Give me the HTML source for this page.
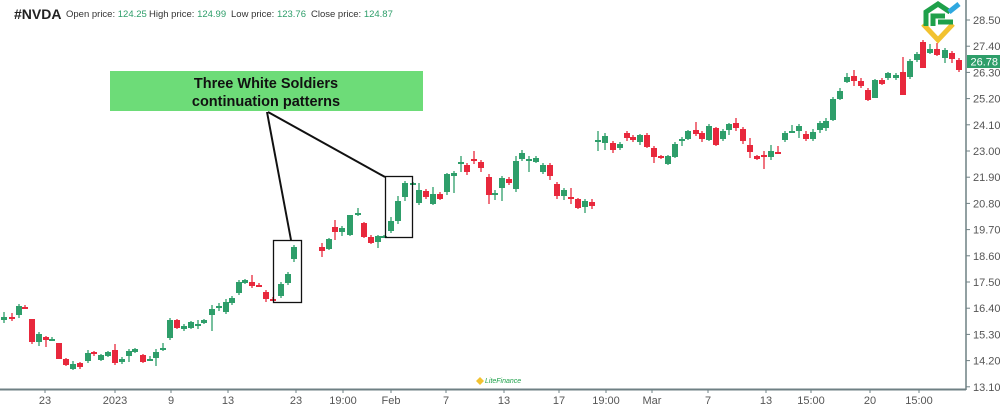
<!DOCTYPE html>
<html><head><meta charset="utf-8"><style>
body{margin:0;background:#fff;width:1000px;height:411px;overflow:hidden;font-family:"Liberation Sans",sans-serif}
svg{position:absolute;left:0;top:0}
</style></head><body>
<svg id="s" width="1000" height="411" xmlns="http://www.w3.org/2000/svg" font-family="Liberation Sans, sans-serif">
<text x="14" y="19" font-size="14" font-weight="bold" fill="#222">#NVDA</text>
<g font-size="9.5" fill="#333">
<text x="66" y="17">Open price: <tspan fill="#2e9e6a">124.25</tspan></text>
<text x="149" y="17">High price: <tspan fill="#2e9e6a">124.99</tspan></text>
<text x="231" y="17">Low price: <tspan fill="#2e9e6a">123.76</tspan></text>
<text x="311" y="17">Close price: <tspan fill="#2e9e6a">124.87</tspan></text>
</g>
<line x1="966" y1="0" x2="966" y2="390" stroke="#6f8084" stroke-width="1.5"/>
<line x1="0" y1="389.5" x2="966" y2="389.5" stroke="#6f8084" stroke-width="2"/>
<g font-size="11" fill="#555" id="yl"></g>
<g font-size="11" fill="#555" id="xl" text-anchor="middle"></g>
<g id="c"></g>
<rect x="110" y="71" width="313" height="40" fill="#6ddc78"/>
<text x="266" y="88" font-size="14.5" font-weight="bold" text-anchor="middle" fill="#111">Three White Soldiers</text>
<text x="266" y="106" font-size="14.5" font-weight="bold" text-anchor="middle" fill="#111">continuation patterns</text>
<line x1="267" y1="112" x2="291" y2="240" stroke="#111" stroke-width="2"/>
<line x1="268" y1="112" x2="385" y2="177" stroke="#111" stroke-width="2"/>
<rect x="273.5" y="240.5" width="28" height="62" fill="none" stroke="#111" stroke-width="1.3"/>
<rect x="385.5" y="176.5" width="27" height="61" fill="none" stroke="#111" stroke-width="1.3"/>
<rect x="967" y="55" width="33" height="13" fill="#2e9e6a"/>
<text x="998" y="65.5" font-size="11" fill="#fff" text-anchor="end">26.78</text>
<g transform="translate(921,2)">
<path d="M2 22 L17 38 L32 22" fill="none" stroke="#f2c230" stroke-width="5" stroke-linejoin="miter"/>
<path d="M5 24 L5 10 L17 2 L29 10 M12 24 L12 14 L24 14 M17 20 L32 20" fill="none" stroke="#1ea04a" stroke-width="5"/>
<path d="M28 10 L38 2" stroke="#2fa8e0" stroke-width="5"/>
</g>
<g transform="translate(476,376)"><path d="M0 5 L4 1 L8 5 L4 9Z" fill="#f2c230"/><text x="9" y="7" font-size="7" fill="#1ea04a" font-style="italic">LiteFinance</text></g>
</svg>
<script>
var s="http://www.w3.org/2000/svg";
function el(p,t,a,txt){var e=document.createElementNS(s,t);for(var k in a)e.setAttribute(k,a[k]);if(txt)e.textContent=txt;p.appendChild(e);return e;}
var yl=document.getElementById('yl');
var pr=["28.50","27.40","26.30","25.20","24.10","23.00","21.90","20.80","19.70","18.60","17.50","16.40","15.30","14.20","13.10"];
pr.forEach(function(p,i){var y=20+i*26.2;el(yl,'line',{x1:966,y1:y,x2:970,y2:y,stroke:'#6f8084'});el(yl,'text',{x:973,y:y+4},p);});
var xl=document.getElementById('xl');
[[45,"23"],[115,"2023"],[171,"9"],[228,"13"],[296,"23"],[343,"19:00"],[391,"Feb"],[446,"7"],[504,"13"],[559,"17"],[606,"19:00"],[652,"Mar"],[708,"7"],[766,"13"],[811,"15:00"],[870,"20"],[919,"15:00"]].forEach(function(a){el(xl,'line',{x1:a[0],y1:390,x2:a[0],y2:393,stroke:'#6f8084'});el(xl,'text',{x:a[0],y:404},a[1]);});
var G='#2e9e6a',R='#e8283c';
var d=[[4,312,323,317,320,G],[12,313,321,317,318,R],[19,304,318,306,315,G],[25,305,309,307,308,R],[32,319,344,319,342,R],[39,332,346,334,342,G],[46,336,347,337,340,R],[52,337,341,339,340,G],[59,343,359,343,359,R],[66,358,366,359,365,R],[73,361,370,364,369,G],[80,362,369,363,367,R],[88,350,363,353,361,G],[94,351,356,352,354,R],[101,354,361,355,360,G],[108,351,357,352,356,G],[115,344,365,350,363,R],[122,357,364,359,362,G],[129,349,362,351,356,G],[135,348,353,349,352,G],[143,354,363,355,362,R],[150,356,361,359,360,G],[156,349,366,352,358,G],[163,343,351,348,350,G],[170,318,340,320,338,G],[177,319,329,320,328,R],[184,324,331,326,329,G],[191,321,329,322,328,G],[198,320,329,324,326,G],[204,319,324,320,323,G],[212,305,331,309,315,G],[219,303,311,306,308,G],[226,299,314,302,312,G],[232,296,305,298,303,G],[239,280,295,282,293,G],[245,279,284,280,283,G],[252,275,288,282,286,R],[259,283,287,285,286,R],[266,290,302,292,299,R],[273,297,301,299,300,R],[281,282,298,284,296,G],[288,272,285,274,283,G],[294,245,262,247,259,G],[322,243,257,247,251,R],[329,238,250,239,249,G],[335,220,240,227,232,R],[342,226,236,228,232,G],[350,215,236,215,235,G],[358,208,216,213,215,G],[364,222,238,223,237,R],[371,235,244,237,243,R],[378,235,248,236,242,G],[384,235,238,236,237,G],[391,217,233,221,231,G],[398,196,224,201,221,G],[405,181,201,183,197,G],[413,182,184,183,184,G],[419,183,205,190,203,G],[426,189,199,191,197,R],[433,187,205,194,204,G],[440,192,200,194,199,R],[447,173,195,174,192,G],[454,171,193,173,176,G],[461,156,172,162,164,G],[467,163,175,165,172,R],[474,151,164,159,161,R],[481,160,172,162,168,R],[489,174,204,177,195,R],[495,190,200,193,195,G],[502,176,201,178,188,G],[509,177,185,179,183,R],[516,156,192,161,189,G],[522,150,161,153,159,G],[529,156,172,159,161,G],[536,156,163,158,162,G],[543,163,174,165,172,G],[550,163,180,165,176,R],[557,182,199,184,196,R],[564,188,200,190,196,G],[571,188,204,197,199,R],[578,198,209,199,208,R],[585,199,213,201,207,G],[592,199,209,202,206,R],
[598,131,151,140,142,G],[605,133,150,136,143,G],[613,141,153,143,150,R],[620,142,150,144,148,G],[627,131,141,133,138,R],[633,135,142,137,140,R],[640,134,145,135,142,G],[647,133,148,135,147,R],[654,146,163,148,157,R],[661,155,159,156,158,R],[668,155,165,156,164,G],[675,142,158,144,157,G],[682,137,146,139,141,G],[688,130,140,131,139,G],[696,122,136,130,134,R],[702,131,142,133,139,R],[709,124,141,126,140,G],[716,127,146,128,145,R],[723,129,141,131,139,G],[729,123,135,124,130,G],[736,118,131,123,128,R],[743,127,144,129,141,R],[750,138,158,145,152,R],[757,155,160,156,159,R],[764,151,169,155,157,R],[771,145,160,151,157,G],[778,146,154,152,154,R],[785,131,142,133,140,G],[792,125,133,131,133,G],[799,124,138,126,131,G],[806,131,141,134,139,R],[813,129,141,132,139,G],[820,121,133,123,130,G],[826,118,131,121,128,G],[833,97,121,99,120,G],[840,88,100,91,99,G],[847,73,83,77,82,G],[854,70,86,76,81,R],[861,78,88,81,86,R],[868,88,101,90,100,R],[875,79,98,80,98,G],[882,78,85,80,84,R],[888,72,80,73,78,G],[896,73,80,75,78,G],[903,57,95,72,95,R],[910,59,79,61,77,G],[917,52,62,54,60,G],[923,40,68,42,68,R],[930,44,54,49,53,G],[937,43,56,49,55,R],[945,48,63,50,58,G],[952,51,63,53,59,R],[959,58,72,60,70,R]];
var c=document.getElementById('c');
d.forEach(function(k){el(c,'line',{x1:k[0],y1:k[1],x2:k[0],y2:k[2],stroke:k[5],'stroke-width':1.3});var h=Math.max(2,k[4]-k[3]);el(c,'rect',{x:k[0]-3,y:k[3],width:6,height:h,fill:k[5]});});
</script>
</body></html>
